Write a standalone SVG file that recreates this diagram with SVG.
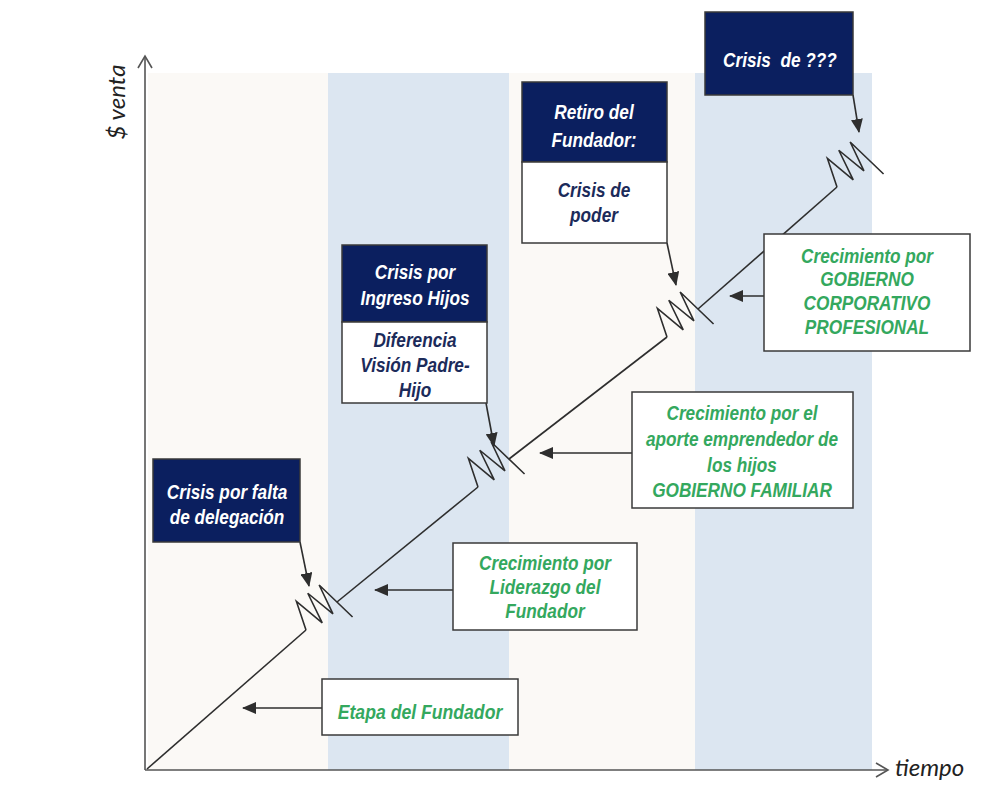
<svg xmlns="http://www.w3.org/2000/svg" width="986" height="785" viewBox="0 0 986 785">
<style>
.band-a{fill:#fbf9f6}
.band-b{fill:#dce6f1}
.box{fill:#fff;stroke:#3a3a3a;stroke-width:1.5}
.hdr{fill:#0b1f5f;stroke:#3a3a3a;stroke-width:1.5}
.t{font-family:"Liberation Sans",Arial,sans-serif;font-style:italic;font-weight:bold;font-size:21px;text-anchor:middle}
.g{fill:#34a85e}
.w{fill:#ffffff}
.n{fill:#1c2b5a}
.ax{font-family:Lato,"Open Sans",sans-serif;font-style:italic;font-size:24px;fill:#222}
.axis{stroke:#555;stroke-width:1.6;fill:none}
.ln{stroke:#2e2e2e;stroke-width:1.6;fill:none}
.arr{stroke:#2e2e2e;stroke-width:1.6;fill:none;marker-end:url(#head)}
</style>
<defs>
<marker id="head" markerUnits="userSpaceOnUse" markerWidth="14" markerHeight="12" refX="13" refY="6" orient="auto">
<path d="M0,0 L14,6 L0,12 z" fill="#2e2e2e"/>
</marker>
<marker id="open" markerUnits="userSpaceOnUse" markerWidth="16" markerHeight="16" refX="13" refY="8" orient="auto">
<path d="M1,1 L13,8 L1,15" fill="none" stroke="#555" stroke-width="1.6"/>
</marker>
<path id="zz" d="M0,0 L11,-28 L17,5 L25,-27 L31,5 L39,-26 L44,20" fill="none" stroke="#2e2e2e" stroke-width="1.6" stroke-linejoin="miter"/>
</defs>

<g id="background">
<rect x="0" y="0" width="986" height="785" fill="#ffffff"/>
<rect class="band-a" x="148" y="73" width="180" height="697"/>
<rect class="band-b" x="328" y="73" width="181" height="697"/>
<rect class="band-a" x="509" y="73" width="186" height="697"/>
<rect class="band-b" x="695" y="73" width="177" height="697"/>
</g>

<g id="axes">
<line class="axis" x1="145" y1="770" x2="145" y2="56" marker-end="url(#open)"/>
<line class="axis" x1="145" y1="770" x2="888" y2="770" marker-end="url(#open)"/>
<text class="ax" transform="translate(125,102) rotate(-90)" text-anchor="middle" font-size="25">$ venta</text>
<text class="ax" x="895" y="776">tiempo</text>
</g>

<g id="connectors">
<line class="ln" x1="147" y1="769" x2="306" y2="630"/>
<line class="ln" x1="337" y1="602" x2="478" y2="487"/>
<line class="ln" x1="509" y1="459" x2="667" y2="337"/>
<line class="ln" x1="698" y1="309" x2="837" y2="187"/>
<use href="#zz" transform="translate(306,630) rotate(-40)"/>
<use href="#zz" transform="translate(478,487) rotate(-40)"/>
<use href="#zz" transform="translate(667,337) rotate(-40)"/>
<use href="#zz" transform="translate(837,187) rotate(-40)"/>
<line class="arr" x1="322" y1="708" x2="243" y2="708"/>
<line class="arr" x1="453" y1="590" x2="375" y2="590"/>
<line class="arr" x1="632" y1="453" x2="540" y2="453"/>
<line class="arr" x1="764" y1="296" x2="730" y2="296"/>
<line class="arr" x1="300" y1="542" x2="309" y2="586"/>
<line class="arr" x1="486" y1="403" x2="494" y2="446"/>
<line class="arr" x1="667" y1="243" x2="676" y2="285"/>
<line class="arr" x1="853" y1="95" x2="859" y2="132"/>
</g>

<g id="etapa-fundador">
<rect class="box" x="322" y="679" width="196" height="56"/>
<text class="t g" transform="translate(420 719) scale(0.84 1)">Etapa del Fundador</text>
</g>

<g id="crec-liderazgo">
<rect class="box" x="453" y="543" width="184" height="87"/>
<text class="t g" transform="translate(545 570) scale(0.82 1)">Crecimiento por</text>
<text class="t g" transform="translate(545 594) scale(0.82 1)">Liderazgo del</text>
<text class="t g" transform="translate(545 618) scale(0.82 1)">Fundador</text>
</g>

<g id="crec-hijos">
<rect class="box" x="632" y="392" width="221" height="116"/>
<text class="t g" transform="translate(742 420) scale(0.82 1)">Crecimiento por el</text>
<text class="t g" transform="translate(742 446) scale(0.82 1)">aporte emprendedor de</text>
<text class="t g" transform="translate(742 472) scale(0.82 1)">los hijos</text>
<text class="t g" transform="translate(742 497) scale(0.82 1)">GOBIERNO FAMILIAR</text>
</g>

<g id="crec-corporativo">
<rect class="box" x="764" y="234" width="206" height="117"/>
<text class="t g" transform="translate(867 263) scale(0.82 1)">Crecimiento por</text>
<text class="t g" transform="translate(867 286) scale(0.82 1)">GOBIERNO</text>
<text class="t g" transform="translate(867 310) scale(0.82 1)">CORPORATIVO</text>
<text class="t g" transform="translate(867 334) scale(0.82 1)">PROFESIONAL</text>
</g>

<g id="crisis-delegacion">
<rect class="hdr" x="153" y="459" width="147" height="83"/>
<text class="t w" transform="translate(227 499) scale(0.82 1)">Crisis por falta</text>
<text class="t w" transform="translate(227 524) scale(0.82 1)">de delegación</text>
</g>

<g id="crisis-hijos">
<rect class="hdr" x="342" y="245" width="145" height="77"/>
<rect class="box" x="342" y="322" width="145" height="81"/>
<text class="t w" transform="translate(415 279) scale(0.82 1)">Crisis por</text>
<text class="t w" transform="translate(415 305) scale(0.82 1)">Ingreso Hijos</text>
<text class="t n" transform="translate(415 347) scale(0.82 1)">Diferencia</text>
<text class="t n" transform="translate(415 372) scale(0.82 1)">Visión Padre-</text>
<text class="t n" transform="translate(415 397) scale(0.82 1)">Hijo</text>
</g>

<g id="crisis-poder">
<rect class="hdr" x="522" y="82" width="145" height="80"/>
<rect class="box" x="522" y="162" width="145" height="81"/>
<text class="t w" transform="translate(594 119) scale(0.82 1)">Retiro del</text>
<text class="t w" transform="translate(594 147) scale(0.82 1)">Fundador:</text>
<text class="t n" transform="translate(594 197) scale(0.82 1)">Crisis de</text>
<text class="t n" transform="translate(594 222) scale(0.82 1)">poder</text>
</g>

<g id="crisis-futura">
<rect class="hdr" x="705" y="12" width="148" height="83"/>
<text class="t w" transform="translate(780 67) scale(0.82 1)" xml:space="preserve">Crisis  de ???</text>
</g>
</svg>
